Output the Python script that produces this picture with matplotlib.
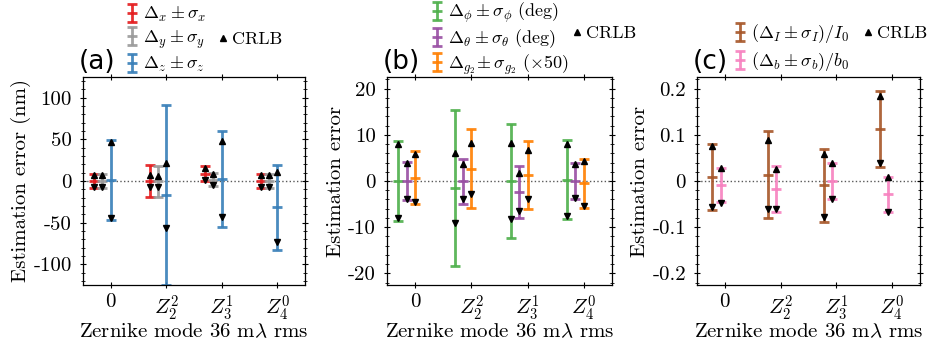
import matplotlib
matplotlib.use("Agg")
import matplotlib.pyplot as plt
import numpy as np
from matplotlib.lines import Line2D
from matplotlib.ticker import AutoMinorLocator, MultipleLocator, FuncFormatter

plt.rcParams['font.family'] = ['cmr10', 'DejaVu Serif']
plt.rcParams['mathtext.fontset'] = 'cm'
plt.rcParams['axes.unicode_minus'] = False
plt.rcParams['axes.formatter.use_mathtext'] = True

modes = ['0', r'$Z_2^2$', r'$Z_3^1$', r'$Z_4^0$']

# Panel (a): position errors (nm)
dx = [0, 0, 8.5, 0]
sx = [8, 19, 9, 8.5]
crlb_x = [7, 7, 7, 7]
dy = [0, -0.5, 1.5, 0]
sy = [8, 18.5, 8, 8.5]
crlb_y = [7, 6.6, 6.5, 7]
dz = [1.5, -17, 2.5, -31.5]
sz = [48, 108, 57.5, 51]
crlb_z = [45.5, 39, 45.5, 42]

# Panel (b): angles (deg) and g2 (x50)
dphi = [0, -1.5, 0, 0.3]
sphi = [8.7, 16.9, 12.4, 8.5]
crlb_phi = [7.9, 7.6, 8.2, 7.8]
dtheta = [0, -0.1, -2.4, 0]
stheta = [4.1, 4.9, 5.7, 3.95]
crlb_theta = [3.8, 3.8, 4.1, 3.7]
dg2 = [0.7, 2.7, 1.3, -0.5]
sg2 = [5.7, 8.6, 7.3, 5.3]
crlb_g2 = [5.2, 5.6, 5.3, 4.9]

# Panel (c): photons and background (relative)
dI = [0.009, 0.014, -0.009, 0.112]
sI = [0.071, 0.094, 0.079, 0.082]
crlb_I = [0.066, 0.074, 0.068, 0.072]
db = [-0.009, -0.017, 0.001, -0.029]
sb = [0.037, 0.05, 0.039, 0.037]
crlb_b = [0.038, 0.043, 0.039, 0.037]

set1 = {'red': '#e41a1c', 'blue': '#377eb8', 'green': '#4daf4a', 'purple': '#984ea3',
        'orange': '#ff7f00', 'brown': '#a65628', 'pink': '#f781bf', 'gray': '#999999'}

W, H = 932, 348
fig = plt.figure(figsize=(W / 100, H / 100), dpi=100)

def px_axes(l, r, t, b):
    return fig.add_axes([l / W, 1 - b / H, (r - l) / W, (b - t) / H])

axa = px_axes(83, 305, 77, 285)
axb = px_axes(387, 612, 77, 285)
axc = px_axes(697, 920, 77, 285)

x = np.arange(len(modes))
fmt = FuncFormatter(lambda v, p: ('%g' % round(v, 6)))

def draw(ax, series, ylim, major, ylabel, title, leg_xy, crlb_xy, lspace):
    n = len(series)
    handles = []
    labels = []
    for i, (d, s, c, col, lab) in enumerate(series):
        off = (i - (n - 1) / 2) * 0.15 - 0.15
        xx = x + off
        eb = ax.errorbar(xx, d, yerr=s, fmt='_', color=col, ms=7, mew=2,
                         elinewidth=2, capsize=3.5, capthick=2, alpha=0.9, zorder=2)
        d = np.array(d); c = np.array(c)
        ax.plot(xx, d + c, '^', color='black', ms=5, zorder=3, ls='none')
        ax.plot(xx, d - c, 'v', color='black', ms=5, zorder=3, ls='none')
        handles.append(eb)
        labels.append(lab)
    ax.axhline(0, color='0.35', ls=':', lw=1, zorder=1)
    ax.set_xlim(-0.5, 3.5)
    ax.set_ylim(-ylim, ylim)
    ax.set_xticks(x)
    ax.set_xticklabels(modes)
    ax.yaxis.set_major_locator(MultipleLocator(major))
    ax.yaxis.set_major_formatter(fmt)
    ax.yaxis.set_minor_locator(AutoMinorLocator())
    ax.tick_params(axis='both', which='both', top=True, right=True, direction='inout',
                   labelsize=15)
    ax.tick_params(which='major', length=4, width=0.8)
    ax.tick_params(which='minor', length=2.5, width=0.6)
    ax.tick_params(axis='y', pad=6)
    ax.tick_params(axis='x', pad=4)
    ax.set_xlabel(r'Zernike mode 36 m$\lambda$ rms', fontsize=15, labelpad=0)
    ax.set_ylabel(ylabel, fontsize=15, labelpad=2)
    for sp in ax.spines.values():
        sp.set_linewidth(0.9)
    ax.text(-0.02, 1.01, title, transform=ax.transAxes, fontsize=19,
            family='DejaVu Sans', ha='left', va='bottom')
    leg1 = ax.legend(handles, labels, loc='upper left',
                     bbox_to_anchor=(leg_xy[0] / W, 1 - leg_xy[1] / H),
                     bbox_transform=fig.transFigure, frameon=False, fontsize=13,
                     handlelength=0.6, handletextpad=0.3, labelspacing=lspace,
                     borderpad=0, borderaxespad=0)
    ax.add_artist(leg1)
    tri = Line2D([], [], marker='^', color='black', ls='none', ms=5)
    ax.legend([tri], ['CRLB'], loc='center left',
              bbox_to_anchor=(crlb_xy[0] / W, 1 - crlb_xy[1] / H),
              bbox_transform=fig.transFigure, frameon=False, fontsize=13,
              handlelength=0.5, handletextpad=0.3, borderpad=0, borderaxespad=0,
              numpoints=1)

draw(axa, [(dx, sx, crlb_x, set1['red'], r'$\Delta_x \pm \sigma_x$'),
           (dy, sy, crlb_y, set1['gray'], r'$\Delta_y \pm \sigma_y$'),
           (dz, sz, crlb_z, set1['blue'], r'$\Delta_z \pm \sigma_z$')],
     125, 50, 'Estimation error (nm)', '(a)', (127, 5), (218, 39), 0.25)

draw(axb, [(dphi, sphi, crlb_phi, set1['green'], r'$\Delta_\phi \pm \sigma_\phi$ (deg)'),
           (dtheta, stheta, crlb_theta, set1['purple'], r'$\Delta_\theta \pm \sigma_\theta$ (deg)'),
           (dg2, sg2, crlb_g2, set1['orange'], r'$\Delta_{g_2}\!\pm \sigma_{g_2}$ ($\times 50$)')],
     22.5, 10, 'Estimation error', '(b)', (432, 1), (572, 33), 0.12)

draw(axc, [(dI, sI, crlb_I, set1['brown'], r'$(\Delta_I \pm \sigma_I)/I_0$'),
           (db, sb, crlb_b, set1['pink'], r'$(\Delta_b \pm \sigma_b)/b_0$')],
     0.225, 0.1, 'Estimation error', '(c)', (735, 22), (863, 33), 0.3)

fig.savefig('out.png', dpi=100)
